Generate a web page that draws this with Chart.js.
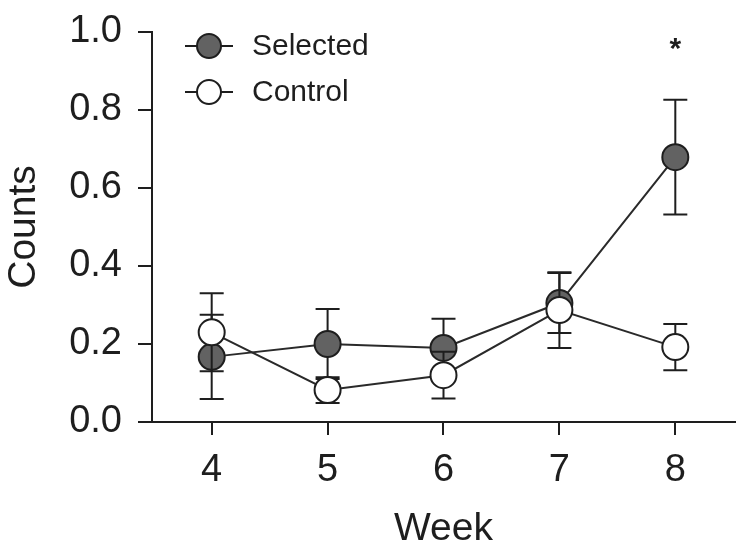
<!DOCTYPE html>
<html>
<head>
<meta charset="utf-8">
<script src="https://cdn.jsdelivr.net/npm/chart.js@4/dist/chart.umd.min.js"></script>
<style>
  html, body { margin: 0; padding: 0; background: #fff; }
  #wrap { width: 750px; height: 553px; }
</style>
</head>
<body>
<div id="wrap"><canvas id="result-chart" width="750" height="553"></canvas></div>
<script>
const weeks = [4, 5, 6, 7, 8];
const selected_mean = [0.167, 0.2, 0.19, 0.305, 0.679];
const selected_err = [0.108, 0.09, 0.075, 0.077, 0.147];
const control_mean = [0.23, 0.082, 0.12, 0.287, 0.192];
const control_err = [0.1, 0.033, 0.06, 0.097, 0.059];
const y_ticks = [0, 0.2, 0.4, 0.6, 0.8, 1.0];
const sig_weeks = [8];

const FONT = "'Liberation Sans', Arial, Helvetica, sans-serif";
const INK = "#1e1e1e";

const to_points = (means) => weeks.map((w, i) => ({ x: w, y: means[i] }));

// error bars are drawn right before each dataset so its markers sit on top
const error_bar_plugin = {
  id: "errorBars",
  beforeDatasetDraw(chart, args) {
    const ds = chart.data.datasets[args.index];
    const { ctx, scales } = chart;
    ctx.save();
    ctx.strokeStyle = INK;
    ctx.lineWidth = 2;
    ds.data.forEach((p, i) => {
      const x = scales.x.getPixelForValue(p.x);
      const top = scales.y.getPixelForValue(p.y + ds.errors[i]);
      const bot = scales.y.getPixelForValue(p.y - ds.errors[i]);
      ctx.beginPath();
      ctx.moveTo(x, top);
      ctx.lineTo(x, bot);
      ctx.moveTo(x - 12, top);
      ctx.lineTo(x + 12, top);
      ctx.moveTo(x - 12, bot);
      ctx.lineTo(x + 12, bot);
      ctx.stroke();
    });
    ctx.restore();
  },
};

const extras_plugin = {
  id: "extras",
  afterDraw(chart) {
    const { ctx, scales } = chart;
    ctx.save();
    // significance mark
    ctx.fillStyle = INK;
    ctx.font = `bold 30px ${FONT}`;
    ctx.textAlign = "center";
    ctx.textBaseline = "middle";
    sig_weeks.forEach((w) => {
      ctx.fillText("*", scales.x.getPixelForValue(w), scales.y.getPixelForValue(0.955));
    });
    // legend, line through marker
    const legend_ds = [chart.data.datasets[0], chart.data.datasets[1]];
    const rows = [46, 92];
    legend_ds.forEach((ds, i) => {
      const y = rows[i];
      ctx.strokeStyle = INK;
      ctx.lineWidth = 2;
      ctx.beginPath();
      ctx.moveTo(185, y);
      ctx.lineTo(233, y);
      ctx.stroke();
      ctx.beginPath();
      ctx.arc(209, y, 12, 0, Math.PI * 2);
      ctx.fillStyle = ds.pointBackgroundColor;
      ctx.fill();
      ctx.stroke();
      ctx.fillStyle = INK;
      ctx.font = `30px ${FONT}`;
      ctx.textAlign = "left";
      ctx.textBaseline = "middle";
      ctx.fillText(ds.label, 252, y + 1);
    });
    ctx.restore();
  },
};

const make_dataset = (label, means, errors, fill, order) => ({
  label,
  data: to_points(means),
  errors,
  order,
  borderColor: "#2a2a2a",
  borderWidth: 2,
  pointRadius: 13,
  pointBorderWidth: 2,
  pointBorderColor: INK,
  pointBackgroundColor: fill,
  tension: 0,
});

const config = {
  type: "line",
  data: {
    datasets: [
      make_dataset("Selected", selected_mean, selected_err, "#626262", 2),
      make_dataset("Control", control_mean, control_err, "#ffffff", 1),
    ],
  },
  options: {
    responsive: false,
    animation: false,
    layout: { padding: { top: 32, right: 9, left: 0, bottom: 0 } },
    plugins: { legend: { display: false }, tooltip: { enabled: false } },
    scales: {
      x: {
        type: "linear",
        min: 3.485,
        max: 8.515,
        afterBuildTicks: (axis) => {
          axis.ticks = weeks.map((w) => ({ value: w }));
        },
        afterFit: (scale) => {
          scale.height = 131;
          scale.paddingLeft = 0;
          scale.paddingRight = 0;
        },
        grid: { drawOnChartArea: false, color: INK, lineWidth: 2, tickLength: 13 },
        border: { color: INK, width: 2 },
        ticks: { color: INK, font: { family: FONT, size: 38 }, padding: 13, maxRotation: 0 },
        title: {
          display: true,
          text: "Week",
          color: INK,
          font: { family: FONT, size: 39 },
          padding: { top: 0, bottom: 0 },
        },
      },
      y: {
        min: 0,
        max: 1,
        afterBuildTicks: (axis) => {
          axis.ticks = y_ticks.map((v) => ({ value: v }));
        },
        afterFit: (scale) => {
          scale.width = 152;
          scale.paddingTop = 0;
          scale.paddingBottom = 0;
        },
        grid: { drawOnChartArea: false, color: INK, lineWidth: 2, tickLength: 14 },
        border: { color: INK, width: 2 },
        ticks: {
          color: INK,
          font: { family: FONT, size: 38 },
          padding: 16,
          callback: (v) => v.toFixed(1),
        },
        title: {
          display: true,
          text: "Counts",
          color: INK,
          font: { family: FONT, size: 39 },
          padding: { top: 1, bottom: 0 },
        },
      },
    },
  },
  plugins: [error_bar_plugin, extras_plugin],
};

new Chart(document.getElementById("result-chart"), config);
</script>
</body>
</html>
